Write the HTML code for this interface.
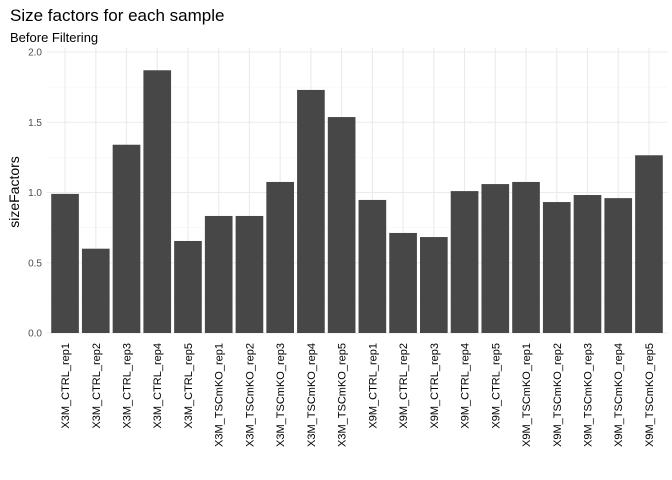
<!DOCTYPE html>
<html><head><meta charset="utf-8"><style>body{margin:0;background:#fff}svg{display:block;font-family:"Liberation Sans",sans-serif}</style></head>
<body>
<svg id="chart" width="672" height="480" viewBox="0 0 672 480" xmlns="http://www.w3.org/2000/svg">
<text x="10" y="21" font-size="17" fill="#000">Size factors for each sample</text>
<text x="10" y="42" font-size="13" fill="#000">Before Filtering</text>
<text transform="translate(19,192) rotate(-90)" text-anchor="middle" font-size="14" fill="#000">sizeFactors</text>
<g id="grid"></g><g id="bars"></g><g id="yticks"></g><g id="xticks"></g>
</svg>
<script>
const categories=["X3M_CTRL_rep1","X3M_CTRL_rep2","X3M_CTRL_rep3","X3M_CTRL_rep4","X3M_CTRL_rep5","X3M_TSCmKO_rep1","X3M_TSCmKO_rep2","X3M_TSCmKO_rep3","X3M_TSCmKO_rep4","X3M_TSCmKO_rep5","X9M_CTRL_rep1","X9M_CTRL_rep2","X9M_CTRL_rep3","X9M_CTRL_rep4","X9M_CTRL_rep5","X9M_TSCmKO_rep1","X9M_TSCmKO_rep2","X9M_TSCmKO_rep3","X9M_TSCmKO_rep4","X9M_TSCmKO_rep5"];
const sizeFactors=[0.99,0.60,1.34,1.87,0.655,0.833,0.833,1.075,1.73,1.537,0.947,0.712,0.683,1.01,1.06,1.075,0.932,0.982,0.96,1.265];
const yTicks=[0,0.5,1.0,1.5,2.0];
const yTickLabels=["0.0","0.5","1.0","1.5","2.0"];
const NS="http://www.w3.org/2000/svg";
const L=46.6,R=667.4,Y0=333,Y2=52;
const step=(R-L)/(categories.length+0.2);
const x=i=>L+step*(0.6+i);
const y=v=>Y0-(Y0-Y2)*v/2;
function mk(p,t,a){const e=document.createElementNS(NS,t);for(const k in a)e.setAttribute(k,a[k]);document.getElementById(p).appendChild(e);return e;}
for(let v=0.25;v<2;v+=0.5){const g=mk("grid","line",{x1:L,x2:R,y1:y(v),y2:y(v),stroke:"#f3f3f3","stroke-width":0.6});

}
yTicks.forEach((v,i)=>{const g=mk("grid","line",{x1:L,x2:R,y1:y(v),y2:y(v),stroke:"#ebebeb","stroke-width":1.1});


const t=mk("yticks","text",{x:42,y:y(v)+3.5,"text-anchor":"end","font-size":"10",fill:"#4d4d4d"});t.textContent=yTickLabels[i];

});
categories.forEach((c,i)=>{const g=mk("grid","line",{x1:x(i),x2:x(i),y1:Y2-4,y2:Y0,stroke:"#ebebeb","stroke-width":1.1});


const w=step*0.9;const b=mk("bars","rect",{x:x(i)-w/2,y:y(sizeFactors[i]),width:w,height:Y0-y(sizeFactors[i]),fill:"#474747"});


const t=mk("xticks","text",{transform:`translate(${x(i)+4},343) rotate(-90)`,"text-anchor":"end","font-size":"11",fill:"#000"});t.textContent=c;

});
</script>
</body></html>
